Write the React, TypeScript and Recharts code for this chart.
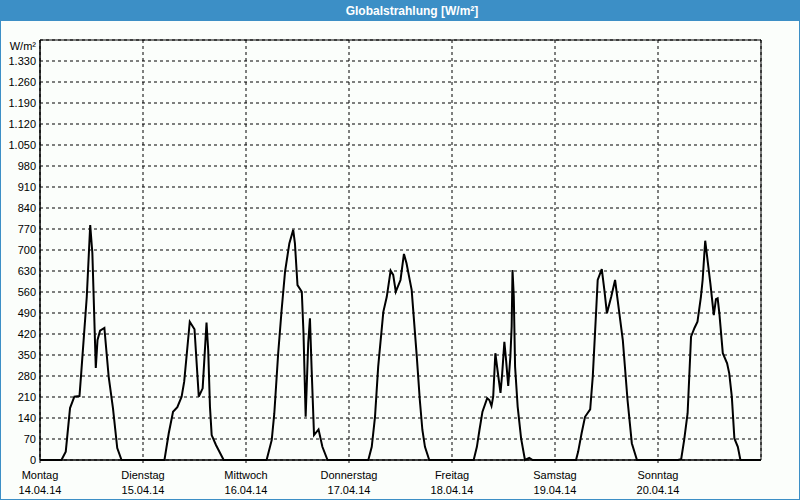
import { LineChart, Line, XAxis, YAxis, CartesianGrid, ReferenceArea } from 'recharts'

// Stundenwerte (Uhrzeit, W/m²) pro Tag
const MONTAG: [number, number][] = [
  [5, 0], [6, 28], [7, 173], [8, 211], [9.2, 213], [9.6, 289], [10.9, 544], [11.7, 783],
  [12.2, 690], [13, 307], [13.4, 400], [14, 431], [15, 440], [16, 278], [17, 173], [18, 40], [19, 0],
]
const DIENSTAG: [number, number][] = [
  [5, 0], [6, 89], [7, 161], [8, 176], [9, 211], [9.6, 261], [10.9, 461], [12, 436], [13, 211],
  [13.9, 239], [14.8, 458], [15.2, 364], [15.6, 178], [16, 83], [17, 50], [18.8, 0],
]
const MITTWOCH: [number, number][] = [
  [4.8, 0], [6, 67], [6.6, 156], [7.5, 356], [8.3, 500], [9.1, 628], [10.1, 722], [11, 767],
  [11.4, 722], [12, 583], [13, 561], [13.4, 422], [13.9, 144], [14.5, 390], [14.9, 472],
  [15.3, 300], [15.85, 83], [16.9, 102], [17.8, 44], [19, 0],
]
const DONNERSTAG: [number, number][] = [
  [4.5, 0], [5.3, 44], [6.06, 144], [6.8, 311], [8, 494], [8.8, 544], [9.7, 631], [10.3, 617],
  [10.9, 561], [12, 600], [12.8, 687], [13.4, 656], [14.6, 567], [15.8, 344], [16.5, 200],
  [17.1, 100], [17.7, 44], [18.7, 0],
]
const FREITAG: [number, number][] = [
  [5.05, 0], [5.8, 44], [6.4, 100], [7.1, 161], [8.2, 206], [8.7, 200], [9.2, 180], [9.6, 211],
  [10.1, 356], [10.6, 300], [11.3, 224], [11.7, 289], [12.2, 394], [12.6, 333], [13.1, 247],
  [13.6, 344], [13.9, 444], [14.1, 633], [14.4, 544], [14.7, 311], [15.3, 178], [16.1, 72],
  [17, 0], [18, 7], [18.8, 0],
]
const SAMSTAG: [number, number][] = [
  [4.9, 0], [5.4, 28], [6.2, 89], [7, 144], [8.2, 169], [8.8, 278], [9.6, 500], [9.95, 600],
  [10.9, 636], [11.5, 567], [12.1, 489], [13.1, 544], [14, 600], [14.6, 533], [15.8, 400],
  [16.9, 200], [17.9, 56], [19.1, 0],
]
const SONNTAG: [number, number][] = [
  [4.6, 0], [5.4, 3], [6.1, 67], [6.9, 156], [7.7, 411], [8.5, 440], [9.2, 461], [10, 544],
  [10.4, 600], [11, 731], [12.2, 589], [13, 483], [13.5, 536], [13.9, 539], [14.3, 489],
  [15.1, 356], [16.1, 322], [16.6, 289], [17.2, 211], [17.8, 72], [18.6, 44], [19.2, 0],
]

const DAY_NAMES = ['Montag', 'Dienstag', 'Mittwoch', 'Donnerstag', 'Freitag', 'Samstag', 'Sonntag']
const DAY_DATES = ['14.04.14', '15.04.14', '16.04.14', '17.04.14', '18.04.14', '19.04.14', '20.04.14']
const X_TICKS = [0, 24, 48, 72, 96, 120, 144]
const Y_TICKS = [0, 70, 140, 210, 280, 350, 420, 490, 560, 630, 700, 770, 840, 910, 980, 1050, 1120, 1190, 1260, 1330]

const BLUE = '#3c8fc6'
const BG = '#fbfefb'
const FONT = '"Liberation Sans", Arial, sans-serif'

const days = [MONTAG, DIENSTAG, MITTWOCH, DONNERSTAG, FREITAG, SAMSTAG, SONNTAG]
const data: { t: number; v: number }[] = []
days.forEach((pts, d) => {
  data.push({ t: d * 24, v: 0 })
  pts.forEach(([h, v]) => data.push({ t: d * 24 + h, v }))
})
data.push({ t: 168, v: 0 })

// deutsches Tausendertrennzeichen
const fmtY = (v: number) =>
  v >= 1000 ? `${Math.floor(v / 1000)}.${String(v % 1000).padStart(3, '0')}` : String(v)

function DayTick(props: any) {
  const { x, y, payload } = props
  const i = X_TICKS.indexOf(payload.value)
  return (
    <g>
      <text x={x} y={y + 16} textAnchor="middle" fontSize={11} fontFamily={FONT} fill="#000">
        {DAY_NAMES[i]}
      </text>
      <text x={x} y={y + 31} textAnchor="middle" fontSize={11} fontFamily={FONT} fill="#000">
        {DAY_DATES[i]}
      </text>
    </g>
  )
}

export default function App() {
  return (
    <div
      style={{
        position: 'fixed',
        left: 0,
        top: 0,
        width: 800,
        height: 500,
        boxSizing: 'border-box',
        border: `1px solid ${BLUE}`,
        background: BG,
        fontFamily: FONT,
      }}
    >
      <div
        style={{
          position: 'absolute',
          left: 0,
          top: 0,
          width: 798,
          height: 20,
          boxSizing: 'border-box',
          paddingLeft: 24,
          background: BLUE,
          color: '#fff',
          fontWeight: 'bold',
          fontSize: 12,
          lineHeight: '20px',
          textAlign: 'center',
        }}
      >
        Globalstrahlung [W/m²]
      </div>
      <div
        style={{
          position: 'absolute',
          left: 0,
          top: 39,
          width: 35,
          textAlign: 'right',
          fontSize: 11,
          lineHeight: '13px',
          color: '#000',
        }}
      >
        W/m²
      </div>
      <div style={{ position: 'absolute', left: 0, top: 0 }}>
        <LineChart width={798} height={498} data={data} margin={{ top: 39, right: 38, bottom: 0, left: 0 }}>
          <CartesianGrid stroke="#000" strokeDasharray="3 3" strokeWidth={1} />
          <XAxis
            dataKey="t"
            type="number"
            domain={[0, 168]}
            ticks={X_TICKS}
            interval={0}
            height={39}
            tickSize={3}
            tickMargin={0}
            stroke="#000"
            tick={<DayTick />}
          />
          <YAxis
            type="number"
            domain={[0, 1400]}
            ticks={Y_TICKS}
            interval={0}
            width={39}
            tickLine={false}
            tickSize={0}
            tickMargin={4}
            tickFormatter={fmtY}
            stroke="#000"
            tick={{ fill: '#000', fontSize: 11, fontFamily: FONT }}
          />
          <ReferenceArea x1={0} x2={168} y1={0} y2={1400} fill="none" stroke="#000" strokeWidth={1} ifOverflow="visible" />
          <Line
            type="linear"
            dataKey="v"
            stroke="#000"
            strokeWidth={2}
            dot={false}
            isAnimationActive={false}
          />
        </LineChart>
      </div>
    </div>
  )
}
